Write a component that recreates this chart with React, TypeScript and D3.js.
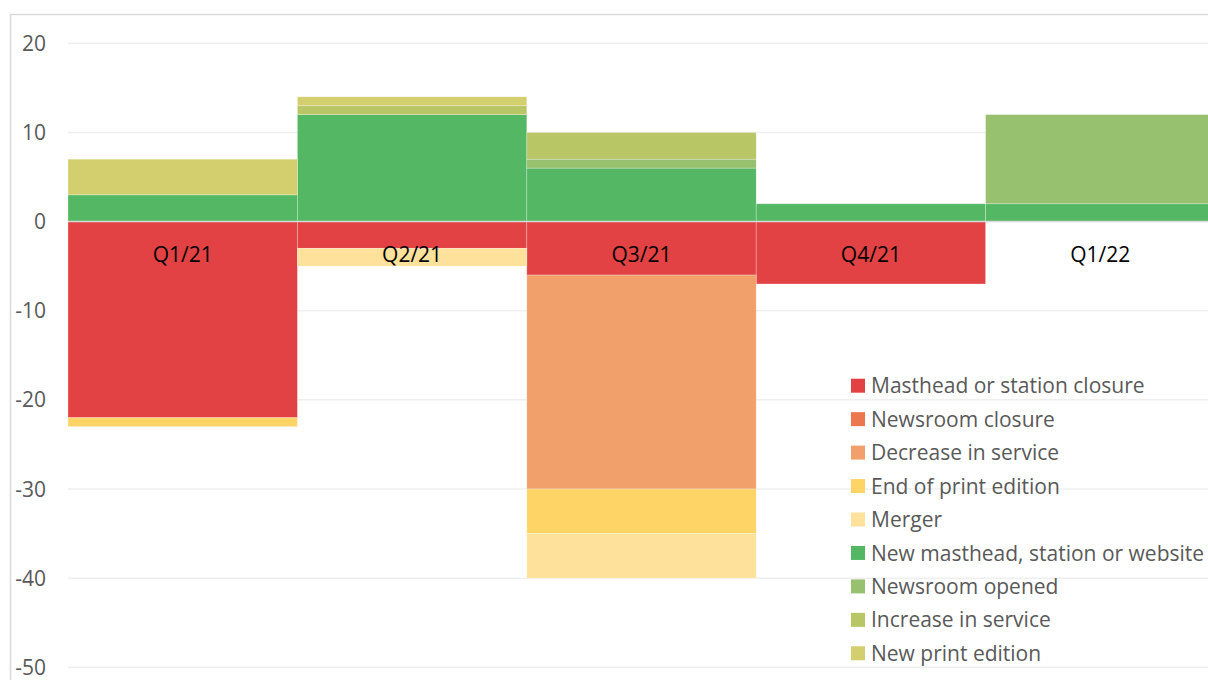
import React from 'react';
import * as d3 from 'd3';

const quarters = ['Q1/21', 'Q2/21', 'Q3/21', 'Q4/21', 'Q1/22'];

const seriesNames = [
  'Masthead or station closure',
  'Newsroom closure',
  'Decrease in service',
  'End of print edition',
  'Merger',
  'New masthead, station or website',
  'Newsroom opened',
  'Increase in service',
  'New print edition',
];

const seriesColors = [
  '#E34244',
  '#EC774F',
  '#F1A06C',
  '#FED466',
  '#FEE29B',
  '#53B763',
  '#97C06F',
  '#B9C665',
  '#D4CF6E',
];

// values per quarter, in legend order
const mastheadClosure = [-22, -3, -6, -7, 0];
const newsroomClosure = [0, 0, 0, 0, 0];
const decreaseInService = [0, 0, -24, 0, 0];
const endOfPrintEdition = [-1, 0, -5, 0, 0];
const merger = [0, -2, -5, 0, 0];
const newMasthead = [3, 12, 6, 2, 2];
const newsroomOpened = [0, 0, 1, 0, 10];
const increaseInService = [0, 1, 3, 0, 0];
const newPrintEdition = [4, 1, 0, 0, 0];

const yTicks = [20, 10, 0, -10, -20, -30, -40, -50];

const seriesValues = [
  mastheadClosure,
  newsroomClosure,
  decreaseInService,
  endOfPrintEdition,
  merger,
  newMasthead,
  newsroomOpened,
  increaseInService,
  newPrintEdition,
];

const font = '"Open Sans", "DejaVu Sans", sans-serif';

export default function App() {
  const width = 1208;
  const height = 680;

  const rows = quarters.map((q, i) => {
    const r: Record<string, any> = { quarter: q };
    seriesNames.forEach((s, j) => (r[s] = seriesValues[j][i]));
    return r;
  });

  const stacked = d3
    .stack()
    .keys(seriesNames)
    .offset(d3.stackOffsetDiverging)
    .order(d3.stackOrderNone)(rows as any);

  const x = d3
    .scaleBand()
    .domain(quarters)
    .range([68, 68 + 229.4 * quarters.length])
    .padding(0);

  const y = d3.scaleLinear().domain([-50, 20]).range([667.3, 43.3]);

  const color = d3.scaleOrdinal<string, string>().domain(seriesNames).range(seriesColors);

  const legendX = 851;
  const legendY = 385.7;
  const legendStep = 33.45;

  return (
    <svg
      width={width}
      height={height}
      style={{ position: 'absolute', left: 0, top: 0, background: '#fff' }}
    >
      <rect x={10.5} y={14.5} width={1400} height={1000} fill="#fff" stroke="#D9D9D9" strokeWidth={1.5} />

      {yTicks.map(t => (
        <g key={t}>
          <line x1={68} x2={width} y1={y(t)} y2={y(t)} stroke="#EFEFEF" strokeWidth={1.5} />
          <text
            x={46}
            y={y(t)}
            dy="0.36em"
            textAnchor="end"
            fontFamily={font}
            fontSize={21}
            fill="#595959"
          >
            {t}
          </text>
        </g>
      ))}

      {stacked.map(layer => (
        <g key={layer.key} fill={color(layer.key)}>
          {layer.map((d, i) => {
            const y0 = Math.min(y(d[0]), y(d[1]));
            const h = Math.abs(y(d[0]) - y(d[1]));
            if (h === 0) return null;
            return (
              <rect
                key={i}
                x={x(quarters[i])}
                y={y0}
                width={x.bandwidth()}
                height={h}
                stroke="#ffffff"
                strokeOpacity={0.35}
                strokeWidth={0.75}
              />
            );
          })}
        </g>
      ))}

      <line x1={68} x2={width} y1={y(0)} y2={y(0)} stroke="#D9D9D9" strokeWidth={1.5} />

      {quarters.map(q => (
        <text
          key={q}
          x={(x(q) ?? 0) + x.bandwidth() / 2}
          y={254}
          dy="0.36em"
          textAnchor="middle"
          fontFamily={font}
          fontSize={21}
          fill="#000"
        >
          {q}
        </text>
      ))}

      {seriesNames.map((s, i) => (
        <g key={s} transform={`translate(${legendX},${legendY + i * legendStep})`}>
          <rect x={0} y={-7} width={14} height={14} fill={color(s)} />
          <text x={20} y={0} dy="0.36em" fontFamily={font} fontSize={21} fill="#595959">
            {s}
          </text>
        </g>
      ))}
    </svg>
  );
}
